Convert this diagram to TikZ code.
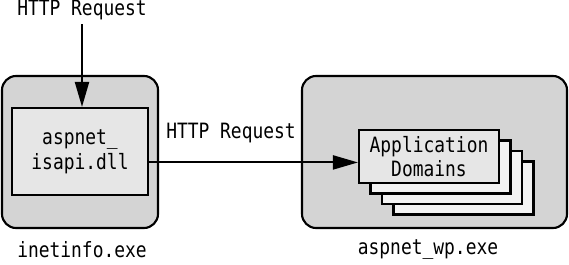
\documentclass[tikz,border=0pt]{standalone}
\usepackage{fontspec}
\setmonofont[FakeStretch=0.85]{DejaVu Sans Mono}
\usetikzlibrary{arrows.meta, positioning}
\definecolor{cshell}{HTML}{D4D4D4}
\definecolor{cinner}{HTML}{E6E6E6}
\definecolor{cdomain}{HTML}{F3F3F3}
\tikzset{
  every picture/.style={font=\ttfamily\fontsize{12}{14}\selectfont, line width=1.2pt},
  process/.style={draw, fill=cshell, rounded corners=8pt, minimum width=#1, minimum height=3.04cm},
  module/.style={draw, fill=cinner, align=center, minimum width=2.72cm, minimum height=1.74cm},
  domain/.style={draw, fill=#1, align=center, minimum width=2.8cm, minimum height=1.06cm, inner sep=2pt},
  domain/.default=cdomain,
  arrow/.style={-{Triangle[length=5mm, width=2.8mm]}, draw=black, line width=1.2pt},
  label/.style={inner sep=2pt},
}

\begin{document}
\begin{tikzpicture}
  \useasboundingbox (0,0) rectangle (11.38,5.28);
  % the two processes
  \node[process=3.12cm] (inetinfo) at (1.60,2.24) {};
  \node[process=5.30cm] (wp) at (8.69,2.24) {};
  \node[module] (isapi) at (1.60,2.25) {aspnet\_\\isapi.dll};
  % stack of application domains, back to front
  \foreach \i in {3,2,1}
    \node[domain] (dom\i) at ({8.58+0.23*\i},{2.15-0.21*\i}) {};
  \node[domain=cinner] (domain) at (8.58,2.15) {Application\\Domains};
  % labels
  \node[label] (req) at (1.64,5.08) {HTTP Request};
  \node[label] (fwd) at (4.62,2.62) {HTTP Request};
  \node[label] at (1.64,0.28) {inetinfo.exe};
  \node[label] at (8.56,0.28) {aspnet\_wp.exe};
  % requests
  \draw[arrow] (req.south) -- (req.south |- isapi.north);
  \draw[arrow] (isapi.-9.6) -- (domain.west |- isapi.-9.6);
\end{tikzpicture}
\end{document}
